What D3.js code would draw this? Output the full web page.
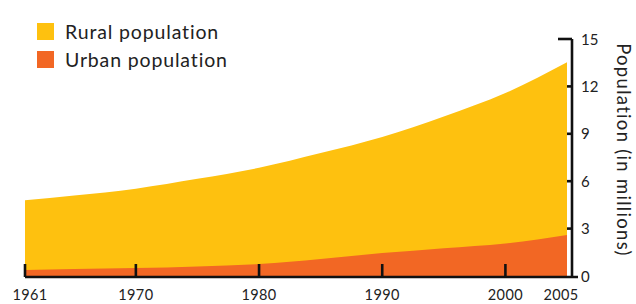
<!DOCTYPE html>
<html>
<head>
<meta charset="utf-8">
<script src="https://cdn.jsdelivr.net/npm/d3@7"></script>
<style>
  html, body { margin: 0; padding: 0; background: #fff; }
  svg { display: block; font-family: Lato, 'DejaVu Sans', sans-serif; }
</style>
</head>
<body>
<svg id="chart" width="636" height="304"></svg>
<script>
const years = [1961, 1965, 1970, 1975, 1980, 1985, 1990, 1995, 2000, 2005];
const urban = [0.38, 0.44, 0.5, 0.6, 0.76, 1.08, 1.45, 1.76, 2.06, 2.6];
const rural = [4.41, 4.66, 5.03, 5.55, 6.09, 6.7, 7.35, 8.34, 9.52, 10.93];
const xTicks = [1961, 1970, 1980, 1990, 2000];
const xLabels = [1961, 1970, 1980, 1990, 2000, 2005];
const yTicks = [0, 3, 6, 9, 12, 15];
const seriesNames = ['Rural population', 'Urban population'];
const colors = { 'Rural population': '#fec10f', 'Urban population': '#f26724' };

document.addEventListener('DOMContentLoaded', () => {
  const svg = d3.select('#chart');

  const x = d3.scaleLinear().domain([1961, 2005]).range([25, 567]);
  const y = d3.scaleLinear().domain([0, 15]).range([276, 39]);
  const axisX = x(2005) + 5;

  const rows = years.map((yr, i) => ({ year: yr, urban: urban[i], rural: rural[i] }));
  const stack = d3.stack().keys(['urban', 'rural'])(rows);

  const area = d3
    .area()
    .x((d) => x(d.data.year))
    .y0((d) => y(d[0]))
    .y1((d) => y(d[1]))
    .curve(d3.curveMonotoneX);

  // rural drawn from zero, urban painted over it
  svg.append('path')
    .attr('d', area(stack[1].map((d) => Object.assign([0, d[1]], { data: d.data }))))
    .attr('fill', colors['Rural population']);
  svg.append('path')
    .attr('d', area(stack[0]))
    .attr('fill', colors['Urban population']);

  const axis = svg.append('g').attr('stroke', '#111').attr('stroke-width', 2.6).attr('fill', 'none');

  // bottom axis line and ticks
  axis.append('line')
    .attr('x1', x(1961)).attr('x2', axisX + 6)
    .attr('y1', y(0) + 1).attr('y2', y(0) + 1);
  axis.selectAll('.xt')
    .data(xTicks)
    .join('line')
    .attr('x1', (d) => x(d)).attr('x2', (d) => x(d))
    .attr('y1', y(0) + 1).attr('y2', y(0) - 12);

  // right axis line and ticks
  axis.append('line')
    .attr('x1', axisX).attr('x2', axisX)
    .attr('y1', y(15)).attr('y2', y(0) + 2);
  axis.selectAll('.yt')
    .data(yTicks.filter((d) => d > 0))
    .join('line')
    .attr('x1', (d) => (d === 15 ? axisX - 14 : axisX - 5))
    .attr('x2', axisX)
    .attr('y1', (d) => y(d)).attr('y2', (d) => y(d));

  svg.selectAll('.xl')
    .data(xLabels)
    .join('text')
    .attr('x', (d) => (d === 1961 ? x(d) + 5 : d === 2005 ? x(d) - 6 : x(d)))
    .attr('y', 300)
    .attr('text-anchor', 'middle')
    .attr('font-size', 14.5)
    .attr('letter-spacing', 0.4)
    .attr('fill', '#222')
    .text((d) => d);

  svg.selectAll('.yl')
    .data(yTicks)
    .join('text')
    .attr('x', axisX + 9)
    .attr('y', (d) => y(d) + 5.5)
    .attr('font-size', 15)
    .attr('fill', '#222')
    .text((d) => d);

  svg.append('text')
    .attr('transform', `translate(617,150) rotate(90)`)
    .attr('text-anchor', 'middle')
    .attr('font-size', 18.5)
    .attr('letter-spacing', 1.3)
    .attr('fill', '#222')
    .text('Population (in millions)');

  const legend = svg.selectAll('.legend')
    .data(seriesNames)
    .join('g')
    .attr('transform', (d, i) => `translate(37,${23 + i * 28})`);
  legend.append('rect')
    .attr('width', 17).attr('height', 17)
    .attr('fill', (d) => colors[d]);
  legend.append('text')
    .attr('x', 28).attr('y', 16)
    .attr('font-size', 19.5)
    .attr('letter-spacing', 0.85)
    .attr('fill', '#222')
    .text((d) => d);
});
</script>
</body>
</html>
